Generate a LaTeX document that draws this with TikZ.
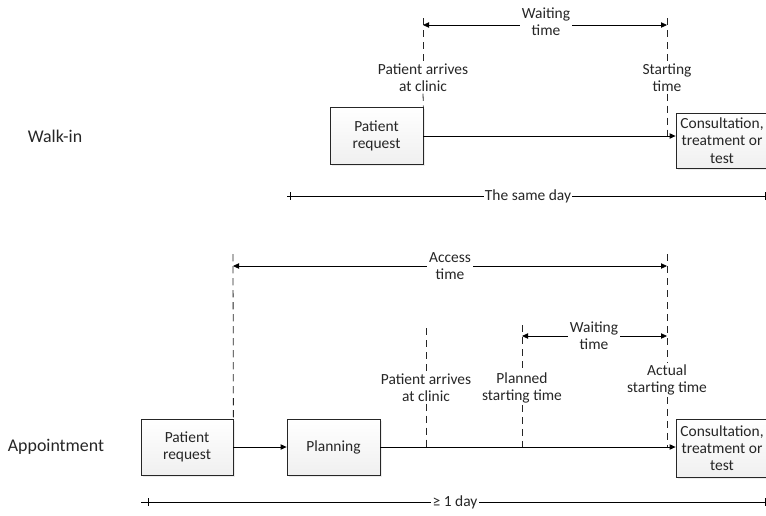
\documentclass[tikz,border=0pt]{standalone}
\usepackage{fontspec}
\setmainfont{Carlito}
\usetikzlibrary{arrows.meta,shadows}
\begin{document}
\begin{tikzpicture}[x=0.75pt,y=-0.75pt,
  txt/.style={font=\fontsize{11.6}{12.9}\selectfont, text=black!85},
  box/.style={txt, draw=black!85, line width=0.6pt, top color=white, bottom color=black!6,
    drop shadow={opacity=0.15, shadow xshift=1.6pt, shadow yshift=-1.6pt},
    align=center, inner sep=1pt},
  lbl/.style={txt, align=center, inner sep=1pt},
  rowlbl/.style={lbl, font=\fontsize{13.4}{15}\selectfont},
  masklbl/.style={lbl, fill=white, inner sep=1.5pt},
  guide/.style={draw=black!85, line width=0.6pt, dash pattern=on 5.5pt off 3.5pt},
  tip/.tip={Triangle[length=4.5pt,width=4pt]},
  flow/.style={draw=black, line width=0.6pt, -tip},
  span/.style={draw=black, line width=0.6pt, tip-tip},
  ruler/.style={draw=black, line width=0.6pt},
  ]
\useasboundingbox (0,0) rectangle (766,515);

% ---------------- Walk-in ----------------
\node[rowlbl] (walkin) at (55,136) {Walk-in};
\node[box, minimum width=69.75pt, minimum height=42.75pt] (req1) at (376.5,135.5) {Patient\\request};
\node[box, minimum width=69pt, minimum height=41.25pt] (cons1) at (722,140.5) {Consultation,\\treatment or\\test};

\node[lbl] (arr1) at (423,78) {Patient arrives\\at clinic};
\node[lbl] (start1) at (667,78) {Starting\\time};
\coordinate (g1top) at (423,18);
\coordinate (g2top) at (667,18);
\coordinate (g2bot) at (667,136);
\draw[guide] (g1top) -- (arr1.north);
\draw[guide] (arr1.south) -- (req1.north east);
\draw[guide] (g2top) -- (start1.north);
\draw[guide] (start1.south) -- (g2bot);

\draw[flow] (req1.east |- 0,136) -- (cons1.west |- 0,136);

\coordinate (w1s) at (423,25);
\coordinate (w1e) at (667,25);
\draw[span] (w1s) -- (w1e);
\node[masklbl] (wait1) at (546,22) {Waiting\\time};

\coordinate (d1s) at (287,196);
\coordinate (d1e) at (768,196);
\draw[ruler] (d1s) -- (d1e);
\draw[ruler] (290,192) -- (290,200);
\draw[ruler] (765,192) -- (765,200);
\node[masklbl, inner sep=1pt] (sameday) at (528,196) {The same day};

% ---------------- Appointment ----------------
\node[rowlbl] (appt) at (56,447) {Appointment};
\node[box, minimum width=69pt, minimum height=42pt] (req2) at (187,447) {Patient\\request};
\node[box, minimum width=69.75pt, minimum height=42pt] (plan) at (333.5,447) {Planning};
\node[box, minimum width=69pt, minimum height=43.5pt] (cons2) at (722,448) {Consultation,\\treatment or\\test};

\draw[flow] (req2.east) -- (plan.west);
\draw[flow] (plan.east) -- (plan.east -| cons2.west);

\coordinate (a1top) at (233,254);
\draw[guide] (a1top) -- (req2.north east);

\node[lbl] (arr2) at (426,388) {Patient arrives\\at clinic};
\coordinate (a2top) at (426,328);
\coordinate (a2bot) at (426,447);
\draw[guide] (a2top) -- (arr2.north);
\draw[guide] (arr2.south) -- (a2bot);

\node[lbl] (planned) at (522,388) {Planned\\starting time};
\coordinate (a3top) at (522,325);
\coordinate (a3bot) at (522,447);
\draw[guide] (a3top) -- (planned.north);
\draw[guide] (planned.south) -- (a3bot);

\node[lbl] (actual) at (667,380) {Actual\\starting time};
\coordinate (a4top) at (667,254);
\coordinate (a4bot) at (667,447);
\draw[guide] (a4top) -- (actual.north);
\draw[guide] (actual.south) -- (a4bot);

\coordinate (acs) at (233,266);
\coordinate (ace) at (667,266);
\draw[span] (acs) -- (ace);
\node[masklbl] (access) at (450,266) {Access\\time};

\coordinate (w2s) at (522,336);
\coordinate (w2e) at (667,336);
\draw[span] (w2s) -- (w2e);
\node[masklbl] (wait2) at (594,336) {Waiting\\time};

\coordinate (d2s) at (141,502);
\coordinate (d2e) at (768,502);
\draw[ruler] (d2s) -- (d2e);
\draw[ruler] (148,498) -- (148,506);
\draw[ruler] (765,498) -- (765,506);
\node[masklbl, inner sep=1pt] (oneday) at (455,502) {≥ 1 day};
\end{tikzpicture}
\end{document}
